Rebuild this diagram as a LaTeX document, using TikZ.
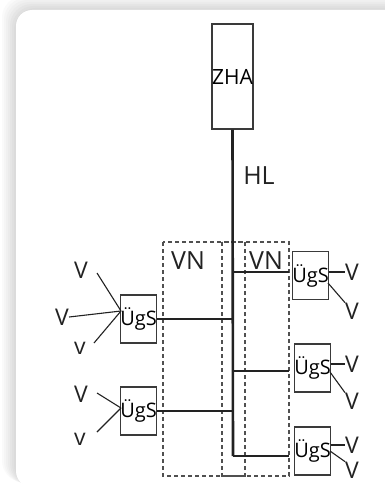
\documentclass[tikz,border=0pt]{standalone}
\usepackage{fontspec}
\setmainfont{Open Sans}
\usetikzlibrary{positioning}
\definecolor{cLine}{HTML}{222222}
\definecolor{cBox}{HTML}{3A3A3A}
\definecolor{cDash}{HTML}{505050}
\tikzset{
  box-zha/.style={draw=cBox,line width=1.1pt,minimum width=41pt,minimum height=105pt,
    inner sep=0pt,font=\fontsize{21}{21}\selectfont},
  box-ugs/.style={draw=cBox,line width=1.1pt,minimum width=35pt,minimum height=48pt,
    inner sep=0pt,font=\fontsize{20}{20}\selectfont},
  lbl/.style={inner sep=0pt,font=\fontsize{23}{23}\selectfont,text=cLine},
  lbl-big/.style={inner sep=0pt,font=\fontsize{25}{25}\selectfont,text=cLine},
  bus/.style={draw=cLine,line width=2.6pt},
  feeder/.style={draw=cLine,line width=2pt},
  wire/.style={draw=cLine,line width=1.1pt},
  area/.style={draw=cDash,line width=1.2pt,dash pattern=on 4pt off 3pt},
}
\begin{document}
\begin{tikzpicture}[x=1pt,y=-1pt]
  % panel with soft shadow
  \useasboundingbox (0,0) rectangle (384,495);
  \fill[white] (0,0) rectangle (384,495);
  \foreach \d/\c in {14/2,12/4,10/6,8/8,6/10,4/12,2/14}
    \fill[black!\c,rounded corners=22pt] (16-\d,10-\d) rectangle (420,487-\d/3);
  \fill[white,rounded corners=16pt] (16,10) rectangle (420,487);

  % areas
  \draw[area] (163,242) rectangle (245,476);
  \draw[area] (222,242) rectangle (289,476);
  \node[lbl-big] (vn1) at (188,261) {VN};
  \node[lbl-big] (vn2) at (266,261) {VN};

  % main line
  \node[box-zha] (zha) at (232.5,76.5) {ZHA};
  \coordinate (end) at (233,456);
  \draw[bus] (zha.south) -- (end);
  \node[lbl-big] (hl) at (259,176) {HL};

  % distribution boxes
  \node[box-ugs] (ugsL1) at (138.5,319) {ÜgS};
  \node[box-ugs] (ugsL2) at (138.5,411) {ÜgS};
  \node[box-ugs] (ugsR1) at (310.5,275.5) {ÜgS};
  \node[box-ugs] (ugsR2) at (312.5,368) {ÜgS};
  \node[box-ugs] (ugsR3) at (312.5,451) {ÜgS};

  \draw[feeder] (ugsL1.east) -- (ugsL1.east -| end);
  \draw[feeder] (ugsL2.east) -- (ugsL2.east -| end);
  \draw[feeder] (end |- 0,272) -- (289,272) coordinate (r1);
  \draw[feeder] (end |- 0,371) -- (289,371) coordinate (r2);
  \draw[feeder] (end) -- (289,456) coordinate (r3);

  % consumers left
  \node[lbl] (vL1a) at (81,270) {V};
  \node[lbl] (vL1b) at (62,317) {V};
  \node[lbl] (vL1c) at (80,348) {v};
  \node[lbl] (vL2a) at (81,394) {V};
  \node[lbl] (vL2b) at (80,439) {v};
  \coordinate (inL1) at (121,311);
  \coordinate (inL2) at (121,408);
  \draw[wire] (97,273) -- (inL1);
  \draw[wire] (vL1b.east) -- (inL1);
  \draw[wire] (94,343) -- (inL1);
  \draw[wire] (97,393) -- (inL2);
  \draw[wire] (97,432) -- (inL2);

  % consumers right
  \node[lbl] (vR1a) at (352,272) {V};
  \node[lbl] (vR1b) at (352,311) {V};
  \node[lbl] (vR2a) at (352,364) {V};
  \node[lbl] (vR2b) at (352,401) {V};
  \node[lbl] (vR3a) at (352,445) {V};
  \node[lbl] (vR3b) at (352,470) {V};
  \draw[wire] (ugsR1.east |- vR1a) -- (vR1a.west);
  \draw[wire] (328,283) -- (vR1b.north west);
  \draw[wire] (ugsR2.east |- vR2a) -- (vR2a.west);
  \draw[wire] (330,372) -- (vR2b.north west);
  \draw[wire] (ugsR3.east |- vR3a) -- (vR3a.west);
  \draw[wire] (330,451) -- (vR3b.north west);
\end{tikzpicture}
\end{document}
